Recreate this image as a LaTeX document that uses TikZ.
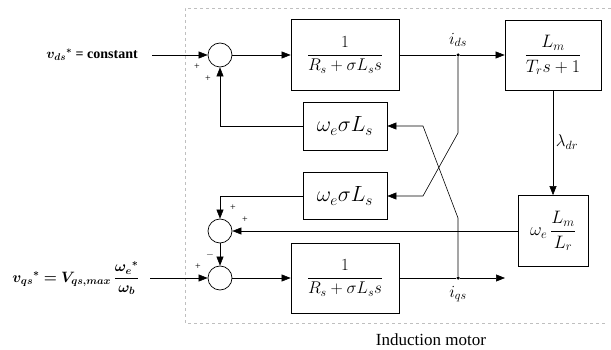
\RequirePackage{fix-cm}
\documentclass[tikz,border=0pt]{standalone}
\usepackage{amsmath}
\usepackage{fontspec}
\setmainfont{Liberation Serif}
\usetikzlibrary{arrows.meta}
\begin{document}
\begin{tikzpicture}[x=1pt,y=-1pt,
  every node/.style={font=\fontsize{15}{18}\selectfont},
  blk/.style={draw, line width=0.7pt, inner sep=0pt, font=\fontsize{17}{20}\selectfont},
  bblk/.style={blk, font=\fontsize{18}{21}\selectfont},
  wblk/.style={blk, font=\fontsize{22}{26}\selectfont},
  lbl/.style={font=\fontsize{17}{20}\selectfont},
  sum/.style={draw, circle, line width=0.7pt, minimum size=24pt, inner sep=0pt},
  arr/.style={-{Triangle[length=9pt,width=7pt]}},
  sgn/.style={font=\fontsize{10}{12}\selectfont, inner sep=0pt},
  dot/.style={circle, fill, inner sep=0pt, minimum size=3.5pt},
  bnd/.style={gray!50, dashed, line width=0.5pt},
  line width=0.6pt
]
\useasboundingbox (0,0) rectangle (611,350);
\draw[bnd] (611,8) -- (185,8) -- (185,323) -- (607,323);

\node[sum] (s1) at (220,55) {};
\node[sum] (s2) at (220,231) {};
\node[sum] (s3) at (220,278) {};
\node[blk, minimum width=108pt, minimum height=71pt] (b1) at (345,55) {$\displaystyle\frac{1}{R_s+\sigma L_s s}$};
\node[bblk, minimum width=96pt, minimum height=70pt] (b2) at (553,55) {$\displaystyle\frac{L_m}{T_r s+1}$};
\node[wblk, minimum width=84pt, minimum height=48pt] (w1) at (345,126) {$\omega_e\sigma L_s$};
\node[wblk, minimum width=84pt, minimum height=47pt] (w2) at (345,196) {$\omega_e\sigma L_s$};
\node[bblk, minimum width=70pt, minimum height=71pt] (b3) at (553,231) {$\omega_e\,\displaystyle\frac{L_m}{L_r}$};
\node[blk, minimum width=108pt, minimum height=70pt] (b4) at (345,278) {$\displaystyle\frac{1}{R_s+\sigma L_s s}$};

\node[dot] (ids) at (458,55) {};
\node[dot] (iqs) at (458,278) {};
\coordinate (qout) at (505,278);
\coordinate (a1) at (458,133);
\coordinate (a2) at (423,196);
\coordinate (c1) at (458,218);
\coordinate (c2) at (423,126);

\node[lbl] (lids) at (458,40) {$i_{ds}$};
\node[lbl] (liqs) at (458,294) {$i_{qs}$};
\node[lbl] (llam) at (567,142) {$\lambda_{dr}$};

\node[anchor=east, inner sep=0pt, font=\fontsize{14}{17}\selectfont] (in1) at (138,55) {$\boldsymbol{v_{ds}}^{\boldsymbol{*}}$ \textbf{= constant}};
\node[anchor=east, inner sep=0pt] (in2) at (140,278) {$\boldsymbol{v_{qs}}^{\boldsymbol{*}} \boldsymbol{=} \boldsymbol{V_{qs,max}}\,\dfrac{\boldsymbol{\omega_e}^{\boldsymbol{*}}}{\boldsymbol{\omega_b}}$};
\node[font=\fontsize{17}{20}\selectfont] (lim) at (431,340) {Induction motor};

\node[sgn] (p1) at (197,67) {+};
\node[sgn] (p2) at (208,79) {+};
\node[sgn] (p3) at (233,208) {+};
\node[sgn] (p4) at (245,220) {+};
\node[sgn] (m1) at (210,255) {$-$};
\node[sgn] (p5) at (198,267) {+};

\draw[arr, shorten <=14pt] (in1.east) -- (s1.west);
\draw[arr, shorten <=10pt] (in2.east) -- (s3.west);
\draw[arr] (s1) -- (b1);
\draw (b1) -- (ids);
\draw[arr] (ids) -- (b2);
\draw[arr] (b2) -- (b3);
\draw[arr] (ids) -- (a1) -- (a2) -- (w2.east);
\draw[arr] (iqs) -- (c1) -- (c2) -- (w1.east);
\draw[arr] (w1.west) -| (s1.south);
\draw[arr] (w2.west) -| (s2.north);
\draw[arr] (b3.west) -- (s2.east);
\draw[arr] (s2) -- (s3);
\draw[arr] (s3) -- (b4);
\draw (b4) -- (iqs);
\draw[arr] (iqs) -- (qout);
\end{tikzpicture}
\end{document}
